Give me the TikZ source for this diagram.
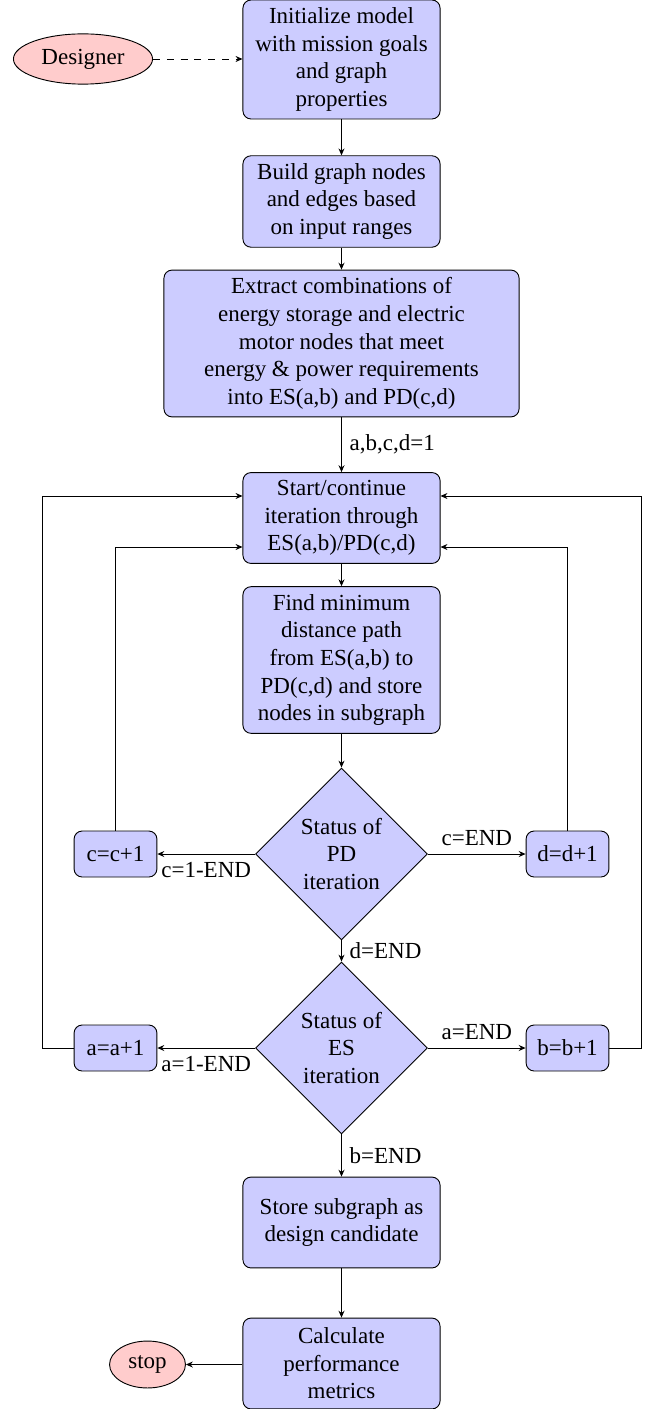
\documentclass[tikz,border=0pt]{standalone}
\usepackage{fontspec}
\setmainfont{Liberation Serif}
\usetikzlibrary{shapes.geometric,arrows.meta,calc}
\begin{document}
\begin{tikzpicture}[x=0.4348pt,y=-0.4348pt,
  proc/.style={rectangle, rounded corners=3.5pt, draw=black, fill=blue!20, align=center,
    minimum width=85.7pt, minimum height=39.5pt, inner sep=3.33pt},
  decision/.style={diamond, draw=black, fill=blue!20, align=center, inner sep=0pt,
    minimum width=74.8pt, minimum height=74.8pt},
  inc/.style={rectangle, rounded corners=3.5pt, draw=black, fill=blue!20,
    minimum width=36pt, minimum height=20pt},
  term/.style={ellipse, draw=black, fill=red!20},
  arr/.style={-{Stealth[length=3pt,width=2.6pt]}, line width=0.4pt}
]
\useasboundingbox (0,0) rectangle (654,1409);

\node[term] (designer) at (83,59) {Designer};
\node[proc, minimum height=50.9pt] (box1) at (341.5,59.5) {Initialize model\\with mission goals\\and graph\\properties};
\node[proc] (box2) at (341.5,201.5) {Build graph nodes\\and edges based\\on input ranges};
\node[proc, minimum width=154.4pt, minimum height=62.2pt] (box3) at (341.5,343.5) {Extract combinations of\\energy storage and electric\\motor nodes that meet\\energy \& power requirements\\into ES(a,b) and PD(c,d)};
\node[proc] (box4) at (341.5,518) {Start/continue\\iteration through\\ES(a,b)/PD(c,d)};
\node[proc, minimum height=62.6pt] (box5) at (341.5,660) {Find minimum\\distance path\\from ES(a,b) to\\PD(c,d) and store\\nodes in subgraph};
\node[decision] (pd) at (341.5,854) {Status of\\PD\\iteration};
\node[inc] (cbox) at (115.5,854) {c=c+1};
\node[inc] (dbox) at (567.5,854) {d=d+1};
\node[decision] (es) at (341.5,1048) {Status of\\ES\\iteration};
\node[inc] (abox) at (115.5,1048) {a=a+1};
\node[inc] (bbox) at (567.5,1048) {b=b+1};
\node[proc] (store) at (341.5,1222.5) {Store subgraph as\\design candidate};
\node[proc] (calc) at (341.5,1363.5) {Calculate\\performance\\metrics};
\node[term] (stop) at (147.5,1364.5) {stop};

\coordinate (outL) at (42,1048);
\coordinate (outR) at (641,1048);

\draw[arr, dashed] (designer.east) -- (box1.west |- designer.east);
\draw[arr] (box1) -- (box2);
\draw[arr] (box2) -- (box3);
\draw[arr] (box3) -- node[right] {a,b,c,d=1} (box4);
\draw[arr] (box4) -- (box5);
\draw[arr] (box5) -- (pd);
\draw[arr] (pd) -- node[below] {c=1-END} (cbox);
\draw[arr] (pd) -- node[above] {c=END} (dbox);
\draw[arr] (pd) -- node[right] {d=END} (es);
\draw[arr] (es) -- node[below] {a=1-END} (abox);
\draw[arr] (es) -- node[above] {a=END} (bbox);
\draw[arr] (es) -- node[right] {b=END} (store);
\draw[arr] (store) -- (calc);
\draw[arr] (calc.west |- stop) -- (stop);

\draw[arr] (cbox.north) |- ($(box4.west)+(0,29)$);
\draw[arr] (dbox.north) |- ($(box4.east)+(0,29)$);
\draw[arr] (abox.west) -- (outL) |- ($(box4.west)+(0,-22)$);
\draw[arr] (bbox.east) -- (outR) |- ($(box4.east)+(0,-22)$);
\end{tikzpicture}
\end{document}
